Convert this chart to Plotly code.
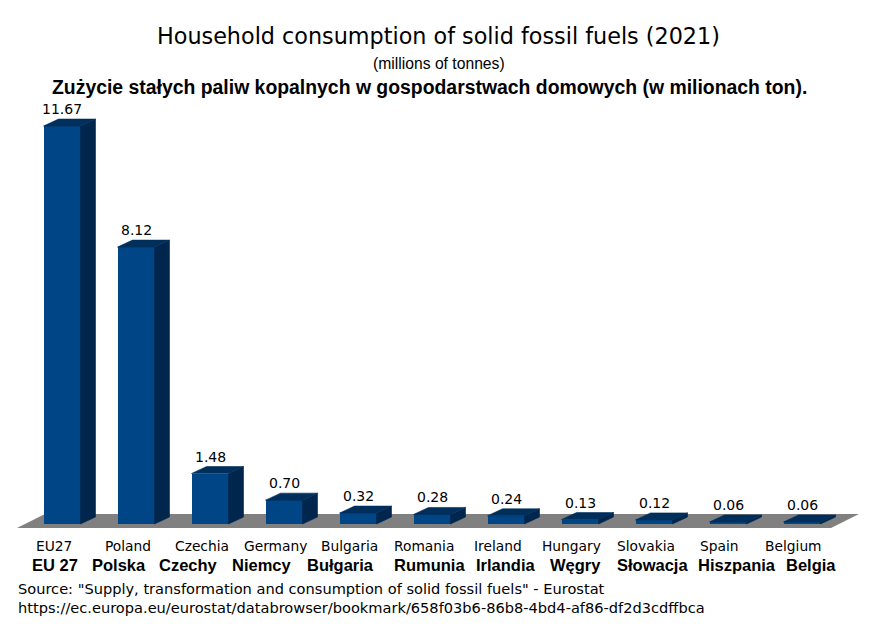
import plotly.graph_objects as go

# ---- data ----
countries_en = ["EU27", "Poland", "Czechia", "Germany", "Bulgaria", "Romania",
                "Ireland", "Hungary", "Slovakia", "Spain", "Belgium"]
countries_pl = ["EU 27", "Polska", "Czechy", "Niemcy", "Bułgaria", "Rumunia",
                "Irlandia", "Węgry", "Słowacja", "Hiszpania", "Belgia"]
values = [11.67, 8.12, 1.48, 0.70, 0.32, 0.28, 0.24, 0.13, 0.12, 0.06, 0.06]
value_labels = ["11.67", "8.12", "1.48", "0.70", "0.32", "0.28", "0.24",
                "0.13", "0.12", "0.06", "0.06"]

title_en = "Household consumption of solid fossil fuels (2021)"
subtitle_en = "(millions of tonnes)"
title_pl = "Zużycie stałych paliw kopalnych w gospodarstwach domowych (w milionach ton)."
source_lines = ['Source: "Supply, transformation and consumption of solid fossil fuels" - Eurostat',
                "https://ec.europa.eu/eurostat/databrowser/bookmark/658f03b6-86b8-4bd4-af86-df2d3cdffbca"]

# ---- geometry / style ----
W, H = 879, 628
PX_X0, PX_STEP = 62.0, 74.0      # pixel of first bar centre, px per category
PX_Y0, PX_UNIT = 524.0, 34.1     # pixel of value 0, px per unit
x_range = [(0 - PX_X0) / PX_STEP, (W - PX_X0) / PX_STEP]
y_range = [(PX_Y0 - H) / PX_UNIT, PX_Y0 / PX_UNIT]

bar_w = 37.0 / PX_STEP
dx = 15.0 / PX_STEP
dy = 7.0 / PX_UNIT

# horizontal pixel offsets of the (hand-placed) Polish label lines vs. the English ones
pl_shift_px = [1, -8.5, -13, -13.5, -8.7, 6.3, 8.3, 4, 6.7, 17.6, 17.8]

FRONT = "#004586"
SIDE = "#00264d"
TOP = "#002f5c"
FLOOR = "#808080"

idx = list(range(len(values)))

fig = go.Figure()

# front faces
fig.add_trace(go.Bar(x=idx, y=values, width=bar_w, marker=dict(color=FRONT, line=dict(width=0)),
                     hoverinfo="skip", showlegend=False))

# side and top faces
sx, sy, tx, ty = [], [], [], []
for i, v in zip(idx, values):
    r = i + bar_w / 2
    l = i - bar_w / 2
    sx += [r, r + dx, r + dx, r, r, None]
    sy += [0, dy, v + dy, v, 0, None]
    tx += [l, r, r + dx, l + dx, l, None]
    ty += [v, v, v + dy, v + dy, v, None]
fig.add_trace(go.Scatter(x=sx, y=sy, fill="toself", fillcolor=SIDE, mode="lines",
                         line=dict(width=0.6, color=SIDE), hoverinfo="skip", showlegend=False))
fig.add_trace(go.Scatter(x=tx, y=ty, fill="toself", fillcolor=TOP, mode="lines",
                         line=dict(width=0.6, color=TOP), hoverinfo="skip", showlegend=False))

# floor
f_front_y = -4.0 / PX_UNIT
f_back_y = 10.0 / PX_UNIT
f_left = (17.0 - PX_X0) / PX_STEP
f_right = (831.0 - PX_X0) / PX_STEP
f_dx = 28.0 / PX_STEP
fig.add_shape(type="path",
              path=f"M {f_left},{f_front_y} L {f_right},{f_front_y} L {f_right + f_dx},{f_back_y} "
                   f"L {f_left + f_dx},{f_back_y} Z",
              xref="x", yref="y", fillcolor=FLOOR, line=dict(width=0), layer="below")

ann = []
# value labels
for i, v, t in zip(idx, values, value_labels):
    ann.append(dict(x=i, y=v + dy, xref="x", yref="y", text=t, showarrow=False,
                    yanchor="bottom", yshift=0,
                    font=dict(family="DejaVu Sans", size=14, color="#000000")))

lab_dx = -8.5 / PX_STEP
for i, en, pl, sh in zip(idx, countries_en, countries_pl, pl_shift_px):
    ann.append(dict(x=i + lab_dx, y=1 - 546 / H, xref="x", yref="paper", text=en, showarrow=False,
                    yanchor="middle", font=dict(family="DejaVu Sans", size=13.8, color="#000000")))
    ann.append(dict(x=i + lab_dx + sh / PX_STEP, y=1 - 565 / H, xref="x", yref="paper",
                    text=f"<b>{pl}</b>", showarrow=False, yanchor="middle",
                    font=dict(family="Liberation Sans", size=16.5, color="#000000")))

ann.append(dict(x=438.5 / W, y=1 - 36 / H, xref="paper", yref="paper", text=title_en, showarrow=False,
                yanchor="middle", font=dict(family="DejaVu Sans", size=22.3, color="#000000")))
ann.append(dict(x=439 / W, y=1 - 64 / H, xref="paper", yref="paper", text=subtitle_en, showarrow=False,
                yanchor="middle", font=dict(family="Liberation Sans", size=15.7, color="#000000")))
ann.append(dict(x=429 / W, y=1 - 87 / H, xref="paper", yref="paper", text=f"<b>{title_pl}</b>",
                showarrow=False, yanchor="middle",
                font=dict(family="Liberation Sans", size=19.4, color="#000000")))
for k, line in enumerate(source_lines):
    ann.append(dict(x=15.5 / W, y=1 - (588 + 19 * k) / H, xref="paper", yref="paper", text=line,
                    showarrow=False, xanchor="left", yanchor="middle",
                    font=dict(family="DejaVu Sans", size=14.6, color="#000000")))

fig.update_layout(
    width=W, height=H, margin=dict(l=0, r=0, t=0, b=0),
    paper_bgcolor="#ffffff", plot_bgcolor="#ffffff",
    xaxis=dict(range=x_range, visible=False, fixedrange=True),
    yaxis=dict(range=y_range, visible=False, fixedrange=True),
    annotations=ann, bargap=0,
)

fig.write_html("out.html", config={"displayModeBar": False})
